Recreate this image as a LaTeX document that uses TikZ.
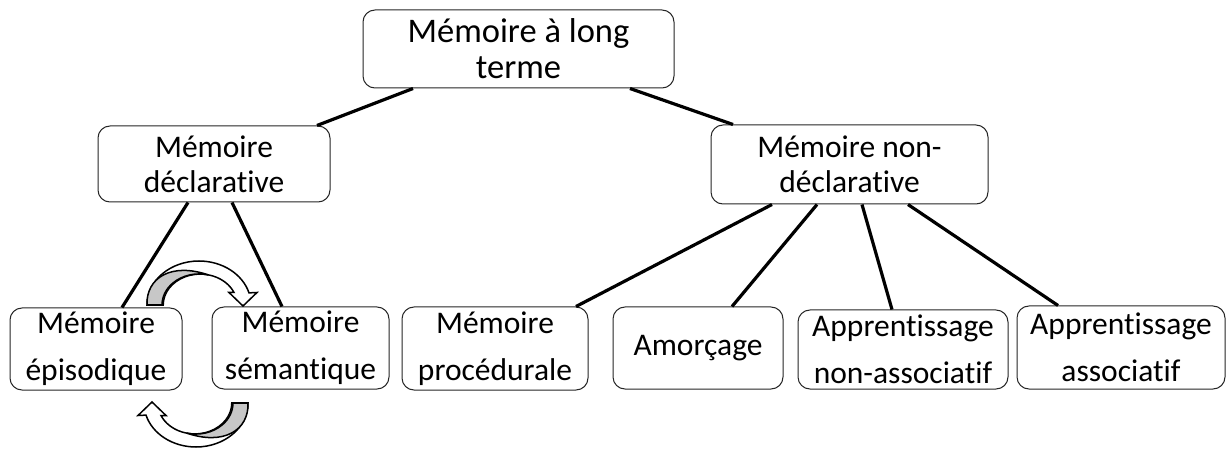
\documentclass[tikz,border=0pt]{standalone}
\usepackage{fontspec}
\setmainfont{Carlito}[Ligatures={NoCommon}]
\begin{document}
\begin{tikzpicture}[x=1pt,y=-1pt,
  box/.style={draw=black!85,line width=1pt,rounded corners=12pt,fill=white,
    align=center,inner sep=0pt},
  big/.style={font=\fontsize{34.5}{36}\selectfont},
  mid/.style={font=\fontsize{31.5}{35}\selectfont},
  low/.style={font=\fontsize{31.5}{47}\selectfont},
  conn/.style={line width=3.2pt},
  ribbon/.style={draw=black,line width=1.5pt,line join=miter},
]
\useasboundingbox (0,0) rectangle (1227,449);

% ribbon-shaped curved arrow, drawn over the top, pointing down on the right
\newcommand\ribbonarrow{%
  \path[ribbon,fill=white] (147,305)
    arc[start angle=180,end angle=344,x radius=52,y radius=44]
    -- (257,292.5) -- (243,306) -- (229,292.5) -- (234,292.5)
    arc[start angle=336,end angle=180,x radius=37,y radius=31]
    -- cycle;
  \path[ribbon,fill=black!22] (147,305)
    .. controls (146,278) and (171,262) .. (208.6,275)
    arc[start angle=285,end angle=180,x radius=37,y radius=31]
    -- cycle;
}

% boxes
\node[box,big,minimum width=311pt,minimum height=78pt] (top) at (518.5,49) {Mémoire à long\\terme};
\node[box,mid,minimum width=232pt,minimum height=76pt] (decl) at (214,164) {Mémoire\\déclarative};
\node[box,mid,minimum width=277pt,minimum height=79pt] (nondecl) at (849.5,164.5) {Mémoire non-\\déclarative};
\node[box,low,minimum width=172pt,minimum height=82pt] (epis) at (96,349) {Mémoire\\épisodique};
\node[box,low,minimum width=177pt,minimum height=82pt] (sem) at (300.5,348) {Mémoire\\sémantique};
\node[box,low,minimum width=186pt,minimum height=83pt] (proc) at (495,348.5) {Mémoire\\procédurale};
\node[box,low,minimum width=170pt,minimum height=82pt] (amor) at (698,348) {Amorçage};
\node[box,low,minimum width=210pt,minimum height=79pt] (nassoc) at (903,349.5) {Apprentissage\\non-associatif};
\node[box,low,minimum width=208pt,minimum height=83pt] (assoc) at (1121,347.5) {Apprentissage\\associatif};

% connectors
\draw[conn] ([xshift=-105.5pt]top.south) -- ([xshift=103pt]decl.north);
\draw[conn] ([xshift=111.5pt]top.south) -- ([xshift=-116.5pt]nondecl.north);
\draw[conn] ([xshift=-26pt]decl.south) -- ([xshift=26pt]epis.north);
\draw[conn] ([xshift=18pt]decl.south) -- ([xshift=-18.5pt]sem.north);
\draw[conn] ([xshift=-77.5pt]nondecl.south) -- ([xshift=81pt]proc.north);
\draw[conn] ([xshift=-32.5pt]nondecl.south) -- ([xshift=34pt]amor.north);
\draw[conn] ([xshift=12.5pt]nondecl.south) -- ([xshift=-11pt]nassoc.north);
\draw[conn] ([xshift=58.5pt]nondecl.south) -- ([xshift=-63pt]assoc.north);

% the two curved arrows between the episodic and semantic boxes
\ribbonarrow
\begin{scope}[rotate around={180:(197.5,354)}]
  \ribbonarrow
\end{scope}
\end{tikzpicture}
\end{document}
